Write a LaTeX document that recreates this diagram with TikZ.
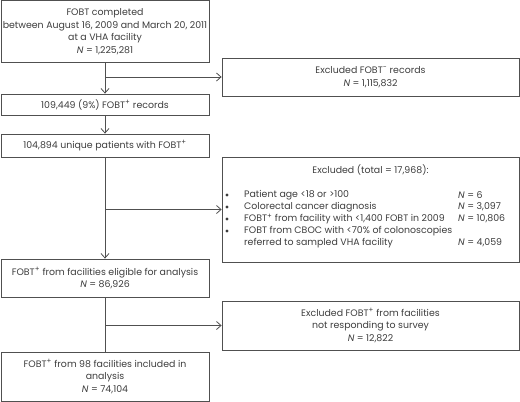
\documentclass[tikz,border=0pt]{standalone}
\usepackage{fontspec}
\setmainfont{Poppins}
\usepackage{xcolor}
\usetikzlibrary{arrows.meta,positioning,calc}
\definecolor{boxline}{HTML}{505050}
\definecolor{boxtext}{HTML}{3D3D3D}
\tikzset{
	flowbox/.style={draw=boxline, line width=0.8pt, rectangle, align=center, text=boxtext, inner sep=0pt, font={\fontsize{9.4}{12.6}\selectfont}},
	flowtext/.style={text=boxtext, inner sep=0pt, font={\fontsize{9.4}{12.6}\selectfont}},
	flowdot/.style={fill=boxtext, circle, inner sep=0pt, minimum size=3.4pt},
	flowline/.style={draw=boxline, line width=0.8pt},
	flowarrow/.style={flowline, -{Straight Barb[length=4.5pt,width=8pt]}},
}
\newcommand{\fpos}{FOBT\textsuperscript{\scriptsize +}}
\newcommand{\fneg}{FOBT\textsuperscript{\scriptsize −}}

\begin{document}
\begin{tikzpicture}[x=1pt,y=-1pt]
		\useasboundingbox (0,0) rectangle (520,402);
		% left column
		\node[flowbox, minimum width=208pt, minimum height=62pt] (start) at (105,31.5) {FOBT completed\\between August 16, 2009 and March 20, 2011\\at a VHA facility\\\textit{N} = 1,225,281};
		\node[flowbox, minimum width=208pt, minimum height=21pt] (posrec) at (105,104.5) {109,449 (9\%) \fpos{} records};
		\node[flowbox, minimum width=208pt, minimum height=23pt] (uniq) at (105,145.5) {104,894 unique patients with \fpos};
		\node[flowbox, minimum width=208pt, minimum height=38pt] (elig) at (105,278) {\fpos{} from facilities eligible for analysis\\\textit{N} = 86,926};
		\node[flowbox, minimum width=208pt, minimum height=49pt] (incl) at (105,376.5) {\fpos{} from 98 facilities included in\\analysis\\\textit{N} = 74,104};
		% right column
		\node[flowbox, minimum width=297pt, minimum height=38pt] (negrec) at (370.5,77) {Excluded \fneg{} records\\\textit{N} = 1,115,832};
		\node[flowbox, minimum width=297pt, minimum height=105pt] (excl) at (370.5,209.5) {};
		\node[flowbox, minimum width=297pt, minimum height=49pt] (noresp) at (370.5,325.5) {Excluded \fpos{} from facilities\\not responding to survey\\\textit{N} = 12,822};
		% exclusion list
		\node[flowtext] (exclhead) at (370.5,170) {Excluded (total = 17,968):};
		\foreach \y/\txt in {195/{Patient age <18 or >100}, 207/{Colorectal cancer diagnosis}, 219/{\fpos{} from facility with <1,400 FOBT in 2009}, 231/{FOBT from CBOC with <70\% of colonoscopies}} {
			\node[flowdot] (dot\y) at (227,\y) {};
			\node[flowtext, anchor=west] (item\y) at (244,\y) {\txt};
		}
		\node[flowtext, anchor=west] (item243) at (244,243) {referred to sampled VHA facility};
		\foreach \y/\n in {195/6, 207/{3,097}, 219/{10,806}, 243/{4,059}} {
			\node[flowtext, anchor=west] (num\y) at (458,\y) {\textit{N} = \n};
		}
		% connectors
		\draw[flowarrow] (start) -- (posrec);
		\draw[flowarrow] (posrec) -- (uniq);
		\draw[flowarrow] (uniq) -- (elig);
		\draw[flowline] (elig) -- (incl);
		\coordinate (split1) at (start.south |- negrec.west);
		\coordinate (split2) at (uniq.south |- excl.west);
		\coordinate (split3) at (elig.south |- noresp.west);
		\draw[flowarrow] (split1) -- (negrec);
		\draw[flowarrow] (split2) -- (excl);
		\draw[flowarrow] (split3) -- (noresp);
	\end{tikzpicture}
\end{document}
